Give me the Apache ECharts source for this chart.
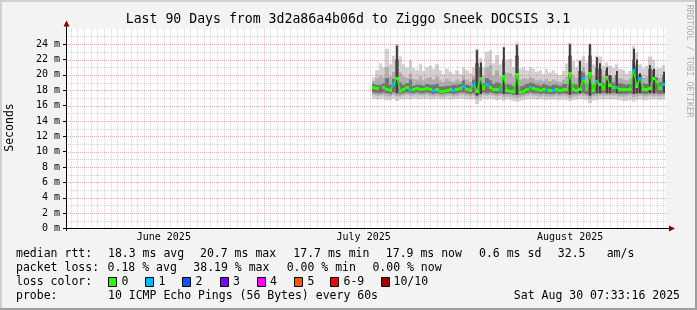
<!DOCTYPE html>
<html><head><meta charset="utf-8">
<script src="https://cdn.jsdelivr.net/npm/echarts@6/dist/echarts.min.js"></script>
<style>html,body{margin:0;padding:0;background:#f3f3f3}#c{width:697px;height:310px}</style>
</head><body><div id="c"></div>
<script>
// ---------------- data ----------------
const TITLE = 'Last 90 Days from 3d2a86a4b06d to Ziggo Sneek DOCSIS 3.1';
const T_MIN = Date.UTC(2025, 5, 1, 7, 33, 16);
const T_MAX = Date.UTC(2025, 7, 30, 7, 33, 16);
const START = Date.UTC(2025, 6, 17, 12, 0, 0);   // first sample
const STEP = 12 * 3600 * 1000;                   // 12 h per sample

const monthLabels = ['June 2025', 'July 2025', 'August 2025'];
const monthLabelTimes = [Date.UTC(2025, 5, 16), Date.UTC(2025, 6, 16), Date.UTC(2025, 7, 16)];
const monthStarts = [Date.UTC(2025, 6, 1), Date.UTC(2025, 7, 1)];
const yTicks = [0, 2, 4, 6, 8, 10, 12, 14, 16, 18, 20, 22, 24];

// median rtt (ms)
const med = [
 18.4,18.3,18.1,18.4,18.2,18.0,18.85,19.6,17.9,18.2,18.4,
 18.0,18.2,18.3,18.1,18.2,18.3,18.1,18.0,18.1,17.9,17.9,
 18.0,18.1,18.0,18.2,18.3,18.6,18.1,18.0,18.85,17.9,19.6,
 18.3,18.85,18.4,18.2,18.1,18.2,19.9,18.0,17.9,17.9,20.1,
 17.8,17.9,18.2,18.4,18.3,18.1,18.0,18.2,18.1,18.0,18.0,
 18.1,18.0,18.2,18.1,20.2,18.1,18.0,18.2,19.6,18.1,20.2,
 18.0,19.2,18.8,18.3,19.7,18.7,18.4,18.4,18.2,18.1,18.1,
 18.2,20.7,18.6,19.6,18.2,18.1,18.3,19.6,19.2,18.3,18.85
];
// lost pings per sample (of 10)
const loss = [
 0,0,4,0,0,0,1,0,0,0,0,
 1,0,0,0,0,0,0,1,0,0,0,
 0,0,1,0,0,1,0,0,1,0,0,
 0,1,0,0,0,1,0,0,0,0,0,
 0,0,0,1,0,0,0,0,1,0,1,
 0,0,0,0,0,0,0,0,1,0,0,
 0,1,0,0,0,0,0,1,0,0,0,
 0,1,0,1,0,0,0,0,0,0,1
];
// smoke: outer (light) band
const lo = [
 16.9,16.8,16.8,16.9,16.7,16.7,16.9,16.6,16.8,16.8,16.9,
 16.8,16.9,16.9,16.8,16.9,16.9,16.8,16.8,16.9,16.8,16.8,
 16.9,16.8,16.8,16.9,16.9,16.9,16.8,16.8,16.8,16.2,16.6,
 16.9,16.8,16.9,16.8,16.7,16.8,16.6,16.8,16.7,16.6,16.5,
 16.6,16.7,16.8,16.9,16.8,16.8,16.8,16.8,16.7,16.8,16.8,
 16.8,16.7,16.8,16.7,16.6,16.7,16.8,16.8,16.8,16.7,16.3,
 16.7,16.7,16.8,16.8,16.8,16.8,16.8,16.8,16.7,16.6,16.6,
 16.7,16.5,16.7,16.8,16.7,16.7,16.8,16.8,16.8,16.7,16.8
];
const hi = [
 19.7,20.6,21.5,21.0,23.4,21.4,22.5,24.0,22.4,21.4,21.0,
 21.9,20.9,20.6,21.4,20.5,21.0,21.2,20.8,21.4,20.6,20.1,
 20.8,20.4,20.1,20.6,20.1,21.0,20.6,20.2,21.0,23.4,22.2,
 21.0,23.0,23.2,21.5,22.6,21.4,23.7,22.0,22.1,21.0,24.2,
 20.8,21.0,20.6,21.0,20.8,20.4,20.6,20.1,20.8,20.3,20.6,
 20.2,20.0,20.5,21.5,24.2,21.8,21.0,22.0,22.5,21.6,24.1,
 21.4,22.5,22.4,21.2,21.6,21.2,20.9,21.4,20.8,20.6,20.2,
 20.5,23.8,22.9,21.4,20.8,21.2,22.4,22.0,20.8,20.9,21.3
];
// smoke: middle band
const lo2 = [
 17.4,17.3,17.3,17.4,17.2,17.2,17.4,17.2,17.2,17.3,17.4,
 17.3,17.3,17.4,17.3,17.3,17.4,17.3,17.2,17.3,17.2,17.2,
 17.3,17.3,17.2,17.3,17.4,17.4,17.3,17.2,17.3,16.9,17.1,
 17.4,17.3,17.4,17.3,17.2,17.3,17.1,17.2,17.2,17.1,17.0,
 17.1,17.2,17.3,17.4,17.3,17.3,17.2,17.3,17.2,17.2,17.2,
 17.3,17.2,17.3,17.2,17.0,17.2,17.2,17.3,17.3,17.2,16.9,
 17.2,17.2,17.3,17.3,17.3,17.3,17.3,17.3,17.2,17.2,17.2,
 17.3,17.1,17.2,17.3,17.2,17.2,17.3,17.2,17.3,17.2,17.3
];
const hi2 = [
 19.2,19.6,19.9,19.7,21.0,19.8,20.4,22.0,20.3,19.8,19.6,
 20.2,19.5,19.4,19.8,19.3,19.6,19.7,19.4,19.8,19.3,19.1,
 19.5,19.2,19.1,19.4,19.2,19.9,19.4,19.1,19.8,21.5,21.0,
 19.8,21.0,21.3,19.9,20.6,19.8,22.0,20.3,20.2,19.8,22.5,
 19.4,19.6,19.5,19.7,19.6,19.3,19.4,19.2,19.5,19.2,19.4,
 19.2,19.1,19.4,19.8,22.5,20.0,19.6,20.5,21.0,20.0,22.5,
 19.9,21.0,20.8,19.8,20.6,19.9,19.7,20.0,19.6,19.4,19.3,
 19.5,22.0,21.2,20.0,19.6,19.8,20.8,20.6,19.7,19.6,20.0
];
// smoke: dark core
const dlo = [
 17.7,17.6,17.6,17.7,17.6,17.5,17.7,17.6,17.5,17.6,17.7,
 17.6,17.6,17.7,17.6,17.6,17.7,17.6,17.5,17.6,17.5,17.5,
 17.6,17.6,17.5,17.6,17.7,17.7,17.6,17.5,17.6,17.3,17.5,
 17.7,17.6,17.7,17.6,17.5,17.6,17.5,17.5,17.5,17.4,17.4,
 17.4,17.5,17.6,17.7,17.6,17.6,17.5,17.6,17.5,17.5,17.5,
 17.6,17.5,17.6,17.5,17.4,17.5,17.5,17.6,17.6,17.5,17.3,
 17.5,17.6,17.6,17.6,17.6,17.6,17.6,17.6,17.5,17.5,17.5,
 17.6,17.5,17.6,17.6,17.5,17.5,17.6,17.6,17.6,17.5,17.6
];
const dk = [
 18.8,18.7,18.7,18.9,19.6,18.7,19.5,23.8,19.0,18.7,18.9,
 19.4,18.6,18.7,18.7,18.6,18.8,18.7,18.7,18.8,18.5,18.5,
 18.6,18.6,18.7,18.7,18.8,19.3,18.7,18.6,19.4,23.2,21.6,
 18.9,19.6,19.3,18.8,19.0,18.9,23.6,18.8,18.7,18.6,23.9,
 18.5,18.6,18.8,19.0,18.9,18.7,18.6,18.8,18.7,18.6,18.7,
 18.7,18.6,18.8,18.8,24.0,18.8,18.7,21.8,20.3,18.8,24.0,
 18.7,22.3,21.5,19.0,21.0,20.0,19.0,20.5,18.9,18.8,18.7,
 18.8,23.4,22.0,20.2,18.9,18.8,21.3,20.8,19.7,19.0,20.4
];

const rttLegend = [
  ['median rtt:', 16], ['18.3 ms avg', 108], ['20.7 ms max', 200], ['17.7 ms min', 293.3],
  ['17.9 ms now', 385.8], ['0.6 ms sd', 479], ['32.5', 557.8], ['am/s', 606.7]
];
const lossLegendText = [
  ['packet loss:', 16], ['0.18 % avg', 107.6], ['38.19 % max', 193.3], ['0.00 % min', 286.7], ['0.00 % now', 372.4]
];
const lossNames = ['0', '1', '2', '3', '4', '5', '6-9', '10/10'];
const lossColors = ['#26ff00', '#00b8ff', '#0059ff', '#7e00ff', '#ff00ff', '#ff5500', '#ff0000', '#a10000'];
const probeText = '10 ICMP Echo Pings (56 Bytes) every 60s';
const stampText = 'Sat Aug 30 07:33:16 2025';

// ---------------- layout / style ----------------
const MONO = '"DejaVu Sans Mono", monospace';
const boxX = [108, 145.3, 182.2, 219.6, 256.9, 294.2, 330.2, 381.3];
const boxLabelX = [121.5, 158.5, 195.5, 233, 270, 307.5, 343.5, 393.5];

const times = med.map((_, i) => START + i * STEP);
const lossIndex = n => (n <= 5 ? n : (n < 10 ? 6 : 7));

function stepEdges(api, t, v) {
  return [Math.round(api.coord([t - STEP / 2, v])[0]), Math.round(api.coord([t + STEP / 2, v])[0])];
}

function bandSeries(a, b, color, z) {
  return {
    type: 'custom', z, silent: true, clip: true,
    data: times.map((t, i) => [t, a[i], b[i]]),
    encode: { x: 0, y: [1, 2] },
    renderItem(params, api) {
      const t = api.value(0), l = api.value(1), h = api.value(2);
      const [x0, x1] = stepEdges(api, t, l);
      const y0 = api.coord([t, h])[1], y1 = api.coord([t, l])[1];
      return { type: 'rect', shape: { x: x0, y: y0, width: x1 - x0, height: y1 - y0 }, style: { fill: color } };
    }
  };
}

// dark core: full width up to the middle band top, thin dark streak where it goes above
function coreSeries(z) {
  return {
    type: 'custom', z, silent: true, clip: true,
    data: times.map((t, i) => [t, dlo[i], dk[i], hi2[i]]),
    encode: { x: 0, y: [1, 2] },
    renderItem(params, api) {
      const t = api.value(0), l = api.value(1), h = api.value(2), cap = api.value(3);
      const [x0, x1] = stepEdges(api, t, l);
      const yl = api.coord([t, l])[1];
      const yc = api.coord([t, Math.min(h, cap)])[1];
      const children = [{ type: 'rect', shape: { x: x0, y: yc, width: x1 - x0, height: yl - yc }, style: { fill: '#747474' } }];
      if (h > cap) {
        const yh = api.coord([t, h])[1];
        const xm = Math.round((x0 + x1) / 2) - 1;
        children.push({ type: 'rect', shape: { x: xm, y: yh, width: 2, height: yl - yh }, style: { fill: '#3a3a3a' } });
      }
      return { type: 'group', children };
    }
  };
}

const GRID_MINOR = 'rgba(140,140,140,0.38)';
const GRID_MAJOR = 'rgba(230,70,70,0.42)';
const dayLines = [];
for (let d = Date.UTC(2025, 5, 2); d <= T_MAX; d += 86400000) dayLines.push([d, 0, monthStarts.includes(d) ? 1 : 0]);
const hLines = [];
for (let v = 1; v <= 25; v++) hLines.push([T_MIN, v, v % 2 === 0 ? 1 : 0]);

const text = (str, x, y, font, opts = {}) => ({
  type: 'text', silent: true, x, y, rotation: opts.rotation || 0, z: 100,
  style: { text: str, x: 0, y: 0, font, fill: opts.fill || '#000', align: opts.align || 'left', verticalAlign: 'middle' }
});

const graphics = [
  { type: 'rect', silent: true, z: 90, shape: { x: 0, y: 0, width: 697, height: 2 }, style: { fill: '#cfcfcf' } },
  { type: 'rect', silent: true, z: 90, shape: { x: 0, y: 0, width: 2, height: 310 }, style: { fill: '#cfcfcf' } },
  { type: 'rect', silent: true, z: 91, shape: { x: 0, y: 308, width: 697, height: 2 }, style: { fill: '#9e9e9e' } },
  { type: 'rect', silent: true, z: 91, shape: { x: 695, y: 0, width: 2, height: 310 }, style: { fill: '#9e9e9e' } },
  { type: 'line', silent: true, z: 95, shape: { x1: 63, y1: 228.5, x2: 670, y2: 228.5 }, style: { stroke: '#000', lineWidth: 1 } },
  { type: 'polygon', silent: true, z: 96, shape: { points: [[669, 225.5], [675, 228.5], [669, 231.5]] }, style: { fill: '#8b0000' } },
  { type: 'line', silent: true, z: 95, shape: { x1: 66.5, y1: 231, x2: 66.5, y2: 26 }, style: { stroke: '#000', lineWidth: 1 } },
  { type: 'polygon', silent: true, z: 96, shape: { points: [[63.5, 26.5], [66.5, 20.5], [69.5, 26.5]] }, style: { fill: '#8b0000' } },
  text(TITLE, 348, 20, '13.2px ' + MONO, { align: 'center' }),
  text('Seconds', 10.5, 127.5, '11.5px ' + MONO, { align: 'center', rotation: Math.PI / 2 }),
  text('RRDTOOL / TOBI OETIKER', 689, 61, '8.5px ' + MONO, { align: 'center', rotation: -Math.PI / 2, fill: 'rgba(0,0,0,0.3)' }),
  ...rttLegend.map(([s, x]) => text(s, x, 254, '11.5px ' + MONO)),
  ...lossLegendText.map(([s, x]) => text(s, x, 268, '11.5px ' + MONO)),
  text('loss color:', 16, 282, '11.5px ' + MONO),
  ...lossNames.map((s, i) => text(s, boxLabelX[i], 282, '11.5px ' + MONO)),
  ...lossColors.map((c, i) => ({ type: 'rect', silent: true, z: 100,
      shape: { x: Math.round(boxX[i]) + 0.5, y: 277.5, width: 8, height: 9 }, style: { fill: c, stroke: '#000', lineWidth: 1 } })),
  text('probe:', 16, 296, '11.5px ' + MONO),
  text(probeText, 108, 296, '11.5px ' + MONO),
  text(stampText, 680, 296, '11.5px ' + MONO, { align: 'right' })
];

const chart = echarts.init(document.getElementById('c'), null, { renderer: 'canvas' });
chart.setOption({
  animation: false,
  backgroundColor: '#f3f3f3',
  grid: { left: 66, right: 31.5, top: 28.8, bottom: 81.5, show: true, backgroundColor: '#ffffff', borderWidth: 0, containLabel: false },
  xAxis: {
    type: 'value', min: T_MIN, max: T_MAX,
    axisLine: { show: false }, splitLine: { show: false },
    axisTick: { show: false },
    axisLabel: {
      customValues: monthLabelTimes, margin: 4, color: '#000', fontSize: 10, fontFamily: MONO,
      formatter: v => monthLabels[monthLabelTimes.indexOf(v)] || ''
    }
  },
  yAxis: {
    type: 'value', min: 0, max: 26,
    axisLine: { show: false }, splitLine: { show: false },
    axisTick: { show: true, customValues: yTicks, length: 3, lineStyle: { color: '#000' } },
    axisLabel: { customValues: yTicks, margin: 6, color: '#000', fontSize: 10, fontFamily: MONO, formatter: v => v + ' m' }
  },
  series: [
    bandSeries(lo, hi, '#d3d3d3', 2),
    bandSeries(lo2, hi2, '#b0b0b0', 3),
    coreSeries(4),
    {
      type: 'custom', z: 6, silent: true, data: dayLines, encode: { x: 0, y: 1 },
      renderItem(params, api) {
        const cs = params.coordSys;
        const x = Math.round(api.coord([api.value(0), 0])[0]) + 0.5;
        return { type: 'line', shape: { x1: x, y1: cs.y, x2: x, y2: cs.y + cs.height },
          style: { stroke: api.value(2) ? GRID_MAJOR : GRID_MINOR, lineWidth: 1, lineDash: [1, 1] } };
      }
    },
    {
      type: 'custom', z: 6, silent: true, data: hLines, encode: { x: 0, y: 1 },
      renderItem(params, api) {
        const cs = params.coordSys;
        const y = Math.round(api.coord([api.value(0), api.value(1)])[1]) + 0.5;
        return { type: 'line', shape: { x1: cs.x, y1: y, x2: cs.x + cs.width, y2: y },
          style: { stroke: api.value(2) ? GRID_MAJOR : GRID_MINOR, lineWidth: 1, lineDash: [1, 1] } };
      }
    },
    {
      // thin connector of the median
      type: 'line', z: 8, silent: true, symbol: 'none',
      data: times.map((t, i) => [t, med[i]]),
      lineStyle: { color: lossColors[0], width: 1.2 }
    },
    {
      // median rtt, coloured by packet loss
      type: 'custom', z: 9, silent: true,
      data: times.map((t, i) => [t, med[i], loss[i]]),
      encode: { x: 0, y: 1 },
      renderItem(params, api) {
        const n = api.value(2), t = api.value(0), m = api.value(1);
        const [x0, x1] = stepEdges(api, t, m);
        const y = Math.round(api.coord([t, m])[1]);
        return { type: 'rect', shape: { x: x0, y: y - 1, width: x1 - x0, height: 3 }, style: { fill: lossColors[lossIndex(n)] } };
      }
    }
  ],
  graphic: graphics
});
</script>
</body></html>
